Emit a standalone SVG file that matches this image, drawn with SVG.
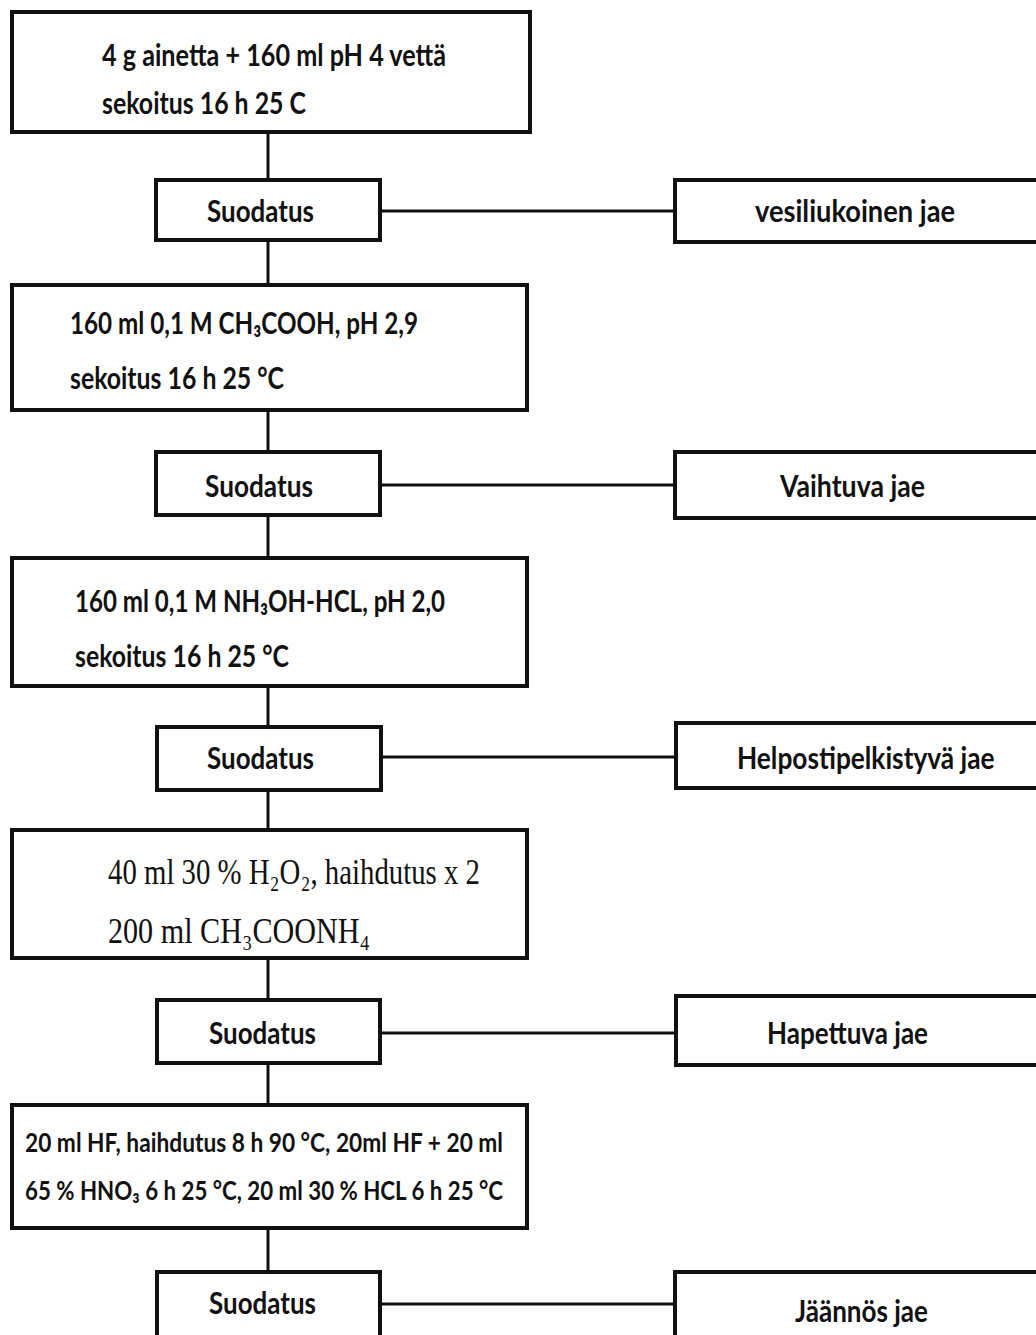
<svg xmlns="http://www.w3.org/2000/svg" width="1036" height="1335" viewBox="0 0 1036 1335">
<style>
.box{fill:#fff;stroke:#111;stroke-width:4}
.ln{stroke:#111;stroke-width:3;fill:none}
.t{font-family:Lato,"Open Sans","Liberation Sans","DejaVu Sans",Arial,sans-serif;font-weight:bold;font-size:31px;fill:#111}
.t5{font-size:27px}
.s{font-family:"Liberation Serif","Times New Roman","DejaVu Serif",serif;font-size:35px;fill:#111}
</style>
<rect width="1036" height="1335" fill="#fff"/>
<g id="connectors">
<line class="ln" x1="268" y1="132" x2="268" y2="180"/>
<line class="ln" x1="268" y1="240" x2="268" y2="285"/>
<line class="ln" x1="380" y1="211" x2="675" y2="211"/>
<line class="ln" x1="268" y1="410" x2="268" y2="452"/>
<line class="ln" x1="268" y1="515" x2="268" y2="558"/>
<line class="ln" x1="380" y1="485" x2="675" y2="485"/>
<line class="ln" x1="268" y1="686" x2="268" y2="727"/>
<line class="ln" x1="268" y1="790" x2="268" y2="830"/>
<line class="ln" x1="381" y1="757" x2="676" y2="757"/>
<line class="ln" x1="268" y1="958" x2="268" y2="1000"/>
<line class="ln" x1="268" y1="1063" x2="268" y2="1105"/>
<line class="ln" x1="380" y1="1033" x2="676" y2="1033"/>
<line class="ln" x1="268" y1="1228" x2="268" y2="1272"/>
<line class="ln" x1="380" y1="1304" x2="675" y2="1304"/>
</g>
<g id="step1">
<rect class="box" x="12" y="12" width="518" height="120"/>
<text class="t" x="102" y="66" textLength="344" lengthAdjust="spacingAndGlyphs">4 g ainetta + 160 ml pH 4 vettä</text>
<text class="t" x="102" y="114" textLength="204" lengthAdjust="spacingAndGlyphs">sekoitus 16 h 25 C</text>
</g>
<g id="filter1">
<rect class="box" x="156" y="180" width="224" height="60"/>
<text class="t" x="207" y="222" textLength="107" lengthAdjust="spacingAndGlyphs">Suodatus</text>
</g>
<g id="fraction1">
<rect class="box" x="675" y="180" width="370" height="62"/>
<text class="t" x="755" y="222" textLength="200" lengthAdjust="spacingAndGlyphs">vesiliukoinen jae</text>
</g>
<g id="step2">
<rect class="box" x="12" y="285" width="515" height="125"/>
<text class="t" x="70" y="334" textLength="348" lengthAdjust="spacingAndGlyphs">160 ml 0,1 M CH₃COOH, pH 2,9</text>
<text class="t" x="70" y="389" textLength="214" lengthAdjust="spacingAndGlyphs">sekoitus 16 h 25 °C</text>
</g>
<g id="filter2">
<rect class="box" x="156" y="452" width="224" height="63"/>
<text class="t" x="205" y="497" textLength="108" lengthAdjust="spacingAndGlyphs">Suodatus</text>
</g>
<g id="fraction2">
<rect class="box" x="675" y="452" width="370" height="66"/>
<text class="t" x="780" y="497" textLength="145" lengthAdjust="spacingAndGlyphs">Vaihtuva jae</text>
</g>
<g id="step3">
<rect class="box" x="12" y="558" width="515" height="128"/>
<text class="t" x="75" y="612" textLength="370" lengthAdjust="spacingAndGlyphs">160 ml 0,1 M NH₃OH-HCL, pH 2,0</text>
<text class="t" x="75" y="667" textLength="214" lengthAdjust="spacingAndGlyphs">sekoitus 16 h 25 °C</text>
</g>
<g id="filter3">
<rect class="box" x="157" y="727" width="224" height="63"/>
<text class="t" x="207" y="769" textLength="107" lengthAdjust="spacingAndGlyphs">Suodatus</text>
</g>
<g id="fraction3">
<rect class="box" x="676" y="723" width="370" height="65"/>
<text class="t" transform="translate(737,769) scale(0.8,1)" x="0" y="0" textLength="322" lengthAdjust="spacingAndGlyphs">Helpostipelkistyvä jae</text>
</g>
<g id="step4">
<rect class="box" x="12" y="830" width="515" height="128"/>
<text class="s" x="108" y="884" textLength="372" lengthAdjust="spacingAndGlyphs">40 ml 30 % H₂O₂, haihdutus x 2</text>
<text class="s" x="108" y="943" textLength="262" lengthAdjust="spacingAndGlyphs">200 ml CH₃COONH₄</text>
</g>
<g id="filter4">
<rect class="box" x="157" y="1000" width="223" height="63"/>
<text class="t" x="209" y="1044" textLength="107" lengthAdjust="spacingAndGlyphs">Suodatus</text>
</g>
<g id="fraction4">
<rect class="box" x="676" y="996" width="370" height="69"/>
<text class="t" x="767" y="1044" textLength="161" lengthAdjust="spacingAndGlyphs">Hapettuva jae</text>
</g>
<g id="step5">
<rect class="box" x="12" y="1105" width="515" height="123"/>
<text class="t t5" x="25" y="1152" textLength="478" lengthAdjust="spacingAndGlyphs">20 ml HF, haihdutus 8 h 90 °C, 20ml HF + 20 ml</text>
<text class="t t5" x="25" y="1200" textLength="478" lengthAdjust="spacingAndGlyphs">65 % HNO₃ 6 h 25 °C, 20 ml 30 % HCL 6 h 25 °C</text>
</g>
<g id="filter5">
<rect class="box" x="157" y="1272" width="223" height="75"/>
<text class="t" x="209" y="1314" textLength="107" lengthAdjust="spacingAndGlyphs">Suodatus</text>
</g>
<g id="fraction5">
<rect class="box" x="675" y="1272" width="370" height="75"/>
<text class="t" x="795" y="1322" textLength="133" lengthAdjust="spacingAndGlyphs">Jäännös jae</text>
</g>
</svg>
